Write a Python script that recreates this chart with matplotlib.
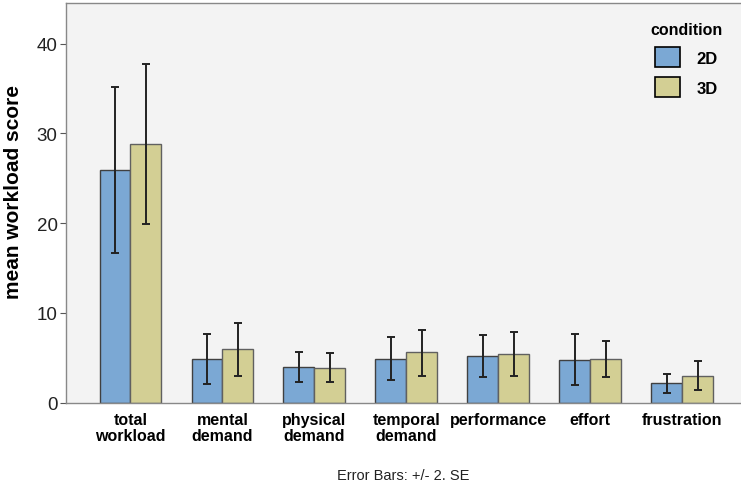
import numpy as np
import matplotlib.pyplot as plt

plt.rcParams['font.family'] = ['Liberation Sans', 'DejaVu Sans']

# Categories and group means
categories = ['total\nworkload', 'mental\ndemand', 'physical\ndemand', 'temporal\ndemand',
              'performance', 'effort', 'frustration']
mean_2d = [25.9, 4.85, 3.95, 4.9, 5.15, 4.8, 2.15]
mean_3d = [28.8, 5.95, 3.9, 5.6, 5.45, 4.85, 3.0]

# Error bar limits (+/- 2 SE)
low_2d = [16.7, 2.1, 2.3, 2.5, 2.85, 2.0, 1.1]
high_2d = [35.2, 7.6, 5.65, 7.35, 7.5, 7.6, 3.2]
low_3d = [19.9, 2.95, 2.35, 2.95, 2.95, 2.85, 1.4]
high_3d = [37.7, 8.9, 5.5, 8.1, 7.9, 6.9, 4.65]

blue = '#7BA8D4'
khaki = '#D3CF94'

x = np.arange(len(categories))
w = 0.335

fig = plt.figure(figsize=(7.41, 4.89), dpi=100)
ax = fig.add_axes([66 / 741, 85.3 / 489, 675 / 741, 399.4 / 489])
ax.set_facecolor('#F3F3F3')

err_2d = [np.array(mean_2d) - np.array(low_2d), np.array(high_2d) - np.array(mean_2d)]
err_3d = [np.array(mean_3d) - np.array(low_3d), np.array(high_3d) - np.array(mean_3d)]

ax.bar(x - w / 2, mean_2d, w, color=blue, edgecolor='#404040', linewidth=1, label='2D')
ax.bar(x + w / 2, mean_3d, w, color=khaki, edgecolor='#606060', linewidth=1, label='3D')
ax.errorbar(x - w / 2, mean_2d, yerr=err_2d, fmt='none', ecolor='#222222',
            elinewidth=1.4, capsize=3.2, capthick=1.4)
ax.errorbar(x + w / 2, mean_3d, yerr=err_3d, fmt='none', ecolor='#222222',
            elinewidth=1.4, capsize=3.2, capthick=1.4)

ax.set_xlim(-0.70, 6.64)
ax.set_ylim(0, 44.5)
ax.set_yticks([0, 10, 20, 30, 40])
ax.tick_params(axis='y', labelsize=13.5, length=4, color='#555555', pad=2, labelcolor='#222222')
ax.set_xticks(x)
ax.set_xticklabels(categories, fontsize=11.5, fontweight='bold', linespacing=1.05)
ax.tick_params(axis='x', length=0, pad=7)

ax.spines['right'].set_visible(False)
for s in ['left', 'bottom', 'top']:
    ax.spines[s].set_color('#888888')
    ax.spines[s].set_linewidth(1)

ax.set_ylabel('mean workload score', fontsize=15, fontweight='bold')
ax.yaxis.set_label_coords(-0.063, 0.53)

leg = ax.legend(title='condition', loc='upper right', bbox_to_anchor=(0.995, 0.99),
                frameon=False, handlelength=1.45, handleheight=1.45, handletextpad=1.0,
                labelspacing=0.6, prop={'weight': 'bold', 'size': 12},
                title_fontproperties={'weight': 'bold', 'size': 11.5})
for h in leg.legend_handles:
    h.set_edgecolor('black')
    h.set_linewidth(1.2)

fig.text(0.5 * (66 + 741) / 741, 9 / 489, 'Error Bars: +/- 2. SE', ha='center',
         fontsize=10.5, color='#222222')

fig.savefig('out.png', dpi=100)
